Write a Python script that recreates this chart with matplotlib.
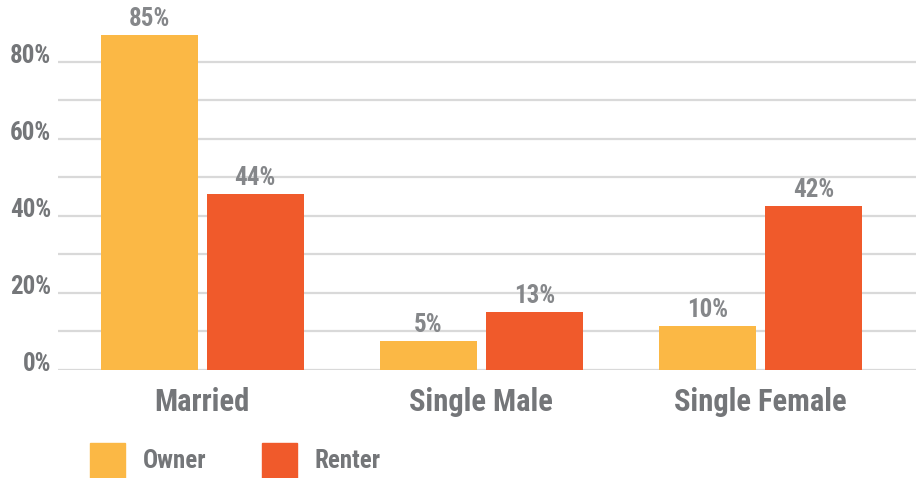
import numpy as np
import matplotlib
matplotlib.use("Agg")
import matplotlib.pyplot as plt
from matplotlib.patches import Rectangle
from matplotlib.transforms import ScaledTranslation

# data
categories = ["Married", "Single Male", "Single Female"]
owner = [87.0, 7.3, 11.4]
renter = [45.7, 15.0, 42.6]
owner_labels = ["85%", "5%", "10%"]
renter_labels = ["44%", "13%", "42%"]
series_names = ["Owner", "Renter"]
yticks = [0, 20, 40, 60, 80]
ytick_labels = ["0%", "20%", "40%", "60%", "80%"]

c_owner = "#FBB845"
c_renter = "#F05A2B"
c_text = "#747679"
c_val = "#85878a"
fam = ["Roboto Condensed", "Archivo Narrow", "PT Sans Narrow", "Oswald", "DejaVu Sans"]

W, H = 916, 478
fig = plt.figure(figsize=(W / 100, H / 100), dpi=100)
ax = fig.add_axes([58 / W, (H - 369.5) / H, 1 - 58 / W, 369.5 / H])

x = np.arange(len(categories))
w = 0.347
off = 0.19
b1 = ax.bar(x - off, owner, w, color=c_owner, zorder=3)
b2 = ax.bar(x + off, renter, w, color=c_renter, zorder=3)

for bars, labs in ((b1, owner_labels), (b2, renter_labels)):
    for r, lab in zip(bars, labs):
        ax.annotate(lab, (r.get_x() + r.get_width() / 2, r.get_height()),
                    xytext=(0, 3), textcoords="offset points",
                    ha="center", va="bottom", fontsize=18,
                    fontweight="bold", color=c_val, family=fam)

ax.set_xlim(-0.516, 2.556)
ax.set_ylim(0, 96.1)
ax.set_yticks(yticks)
ax.set_yticklabels(ytick_labels)
ax.set_yticks([10, 30, 50, 70], minor=True)
ax.grid(axis="y", which="both", color="#d9d9d9", lw=1.6, zorder=0)
ax.set_axisbelow(True)
ax.set_xticks(x)
ax.set_xticklabels(categories)
for s in ax.spines.values():
    s.set_visible(False)
ax.tick_params(axis="both", which="both", length=0)
ax.tick_params(axis="y", pad=5)
ax.tick_params(axis="x", pad=12.5)

shift = ScaledTranslation(0, 4 / 72, fig.dpi_scale_trans)
for t in ax.get_yticklabels():
    t.set_fontsize(18)
    t.set_fontweight("bold")
    t.set_color(c_text)
    t.set_family(fam)
    t.set_va("center")
    t.set_transform(t.get_transform() + shift)
for t in ax.get_xticklabels():
    t.set_fontsize(22)
    t.set_fontweight("bold")
    t.set_color(c_text)
    t.set_family(fam)

# legend drawn by hand
for x0, tx, col, name in ((90, 143, c_owner, series_names[0]),
                          (262, 315, c_renter, series_names[1])):
    fig.patches.append(Rectangle((x0 / W, 0), 35 / W, 35 / H,
                                 transform=fig.transFigure, color=col))
    fig.text(tx / W, (H - 461) / H, name, ha="left", va="center",
             fontsize=18, fontweight="bold", color=c_text, family=fam)

fig.savefig("out.png", dpi=100)
